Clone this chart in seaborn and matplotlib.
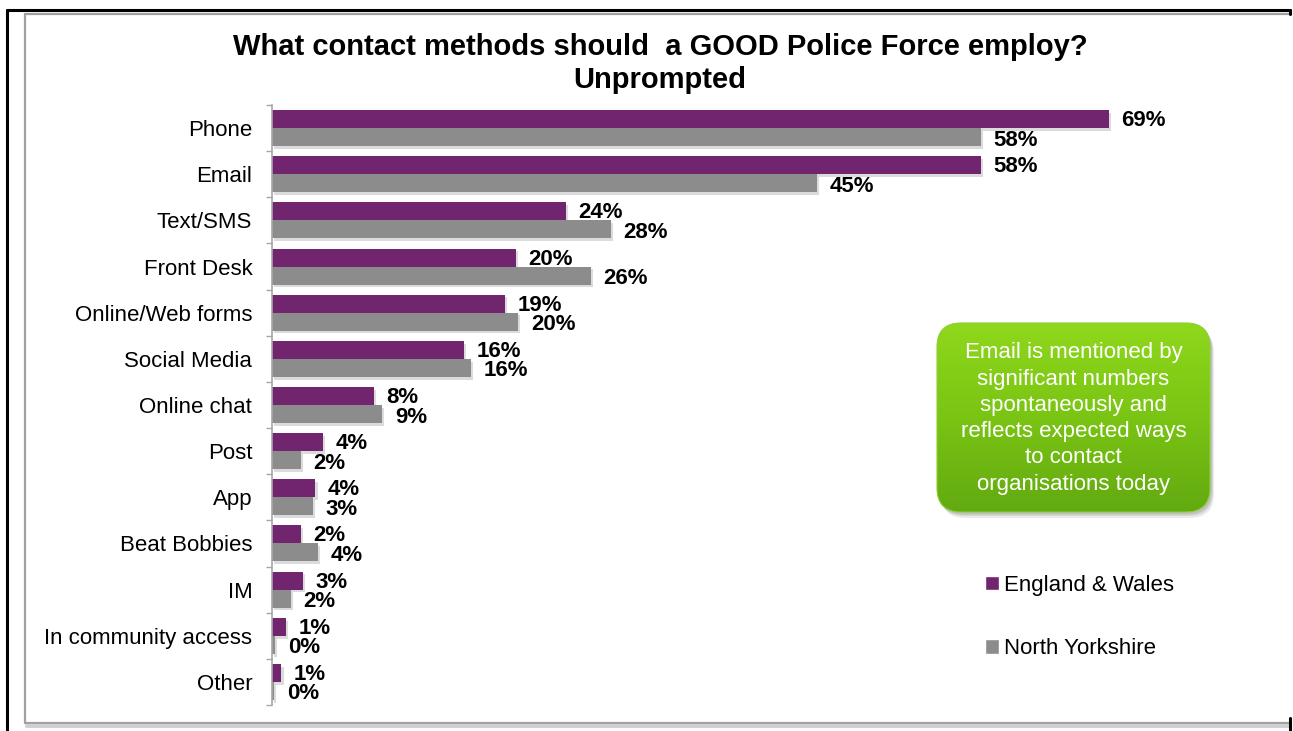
import numpy as np
import pandas as pd
import matplotlib
matplotlib.use("Agg")
import matplotlib.pyplot as plt
import seaborn as sns
from matplotlib.patches import FancyBboxPatch, Rectangle
from matplotlib.lines import Line2D
from matplotlib.colors import LinearSegmentedColormap
import matplotlib.patheffects as pe

# ---------------- data ----------------
categories = ["Phone", "Email", "Text/SMS", "Front Desk", "Online/Web forms",
              "Social Media", "Online chat", "Post", "App", "Beat Bobbies",
              "IM", "In community access", "Other"]
england_wales = [68.9, 58.4, 24.2, 20.1, 19.2, 15.8, 8.4, 4.2, 3.6, 2.4, 2.6, 1.2, 0.8]
north_yorkshire = [58.4, 44.9, 27.9, 26.3, 20.3, 16.4, 9.1, 2.4, 3.4, 3.8, 1.6, 0.3, 0.2]
series_names = ["England & Wales", "North Yorkshire"]
title_line1 = "What contact methods should  a GOOD Police Force employ?"
title_line2 = "Unprompted"
note_text = ("Email is mentioned by\nsignificant numbers\nspontaneously and\n"
             "reflects expected ways\nto contact\norganisations today")

PURPLE = "#72256F"
GREY = "#8C8C8C"

df = pd.DataFrame({
    "Method": categories * 2,
    "Value": england_wales + north_yorkshire,
    "Series": [series_names[0]] * len(categories) + [series_names[1]] * len(categories),
})

sns.set_theme(style="white")
plt.rcParams["font.family"] = ["Liberation Sans", "DejaVu Sans"]
plt.rcParams["text.color"] = "black"
plt.rcParams["axes.labelcolor"] = "black"
plt.rcParams["ytick.color"] = "black"

W, H = 1293, 731
fig = plt.figure(figsize=(W / 100, H / 100), dpi=100)

def fx(px):
    return px / W

def fy(py):
    return 1 - py / H

# axes: left spine at x=271.7, from y=105 to y=705
ax_left, ax_right = 271.7, 1271.7
ax = fig.add_axes([fx(ax_left), fy(705), (ax_right - ax_left) / W, 600 / H])
scale = 12.15  # px per percent
sns.barplot(data=df, y="Method", x="Value", hue="Series", orient="h",
            palette=[PURPLE, GREY], width=0.78, ax=ax, saturation=1,
            edgecolor="none", linewidth=0)
ax.set_xlim(0, (ax_right - ax_left) / scale)
ax.set_ylim(len(categories) - 0.5, -0.5)

shadow = [pe.SimplePatchShadow(offset=(1.5, -2.0), shadow_rgbFace="#9A9A9A", alpha=0.35), pe.Normal()]
for p in ax.patches:
    p.set_path_effects(shadow)

# value labels
for ci, c in enumerate(ax.containers):
    dy = -1.1 if ci == 0 else -2.2
    for bar in c:
        w = bar.get_width()
        yc = bar.get_y() + bar.get_height() / 2
        ax.annotate(f"{w:.0f}%", xy=(w, yc), xytext=(9, dy), textcoords="offset points",
                    ha="left", va="center", fontsize=16, fontweight="bold", color="black")

# axis styling
for s in ["top", "right", "bottom"]:
    ax.spines[s].set_visible(False)
ax.spines["left"].set_color("#A6A6A6")
ax.spines["left"].set_linewidth(1.2)
ax.set_xlabel("")
ax.set_ylabel("")
ax.set_xticks([])
ax.tick_params(axis="y", which="major", length=0, pad=14, labelsize=16, labelcolor="black")
ax.set_yticks(np.arange(len(categories) + 1) - 0.5, minor=True)
ax.tick_params(axis="y", which="minor", length=4, width=1, color="#A6A6A6", left=True)

# legend
ax.legend_.remove()
handles = [Rectangle((0, 0), 1, 1, facecolor=PURPLE), Rectangle((0, 0), 1, 1, facecolor=GREY)]
fig.legend(handles, series_names, loc="upper left", bbox_to_anchor=(fx(985), fy(575)),
           frameon=False, fontsize=16, handlelength=0.62, handleheight=0.62,
           handletextpad=0.25, labelspacing=1.9, borderpad=0, borderaxespad=0)

# title
fig.text(fx(660), fy(47), title_line1, ha="center", va="center", fontsize=21, fontweight="bold")
fig.text(fx(660), fy(80), title_line2, ha="center", va="center", fontsize=21, fontweight="bold")

# green note box with gradient
bx0, by0, bx1, by1 = 937, 323, 1210, 512
bw, bh = bx1 - bx0, by1 - by0
bax = fig.add_axes([fx(bx0) - 5 / W, fy(by1) - 9 / H, (bw + 12) / W, (bh + 12) / H])
bax.set_xlim(-5, bw + 7)
bax.set_ylim(-9, bh + 3)
bax.axis("off")
for off, a in [((4, -6), 0.10), ((3, -4), 0.12), ((2, -2.5), 0.15)]:
    sh = FancyBboxPatch(off, bw, bh, boxstyle="round,pad=0,rounding_size=24",
                        facecolor="#444444", edgecolor="none", alpha=a, zorder=1)
    bax.add_patch(sh)
box = FancyBboxPatch((0, 0), bw, bh, boxstyle="round,pad=0,rounding_size=24",
                     facecolor="none", edgecolor="#8CD034", linewidth=0.8, zorder=3)
bax.add_patch(box)
grad = np.linspace(0, 1, 256).reshape(-1, 1)
gcmap = LinearSegmentedColormap.from_list("g", ["#62AA10", "#7AC414", "#8FD81C"])
im = bax.imshow(grad, cmap=gcmap, extent=(0, bw, 0, bh), origin="lower", aspect="auto", zorder=2)
im.set_clip_path(box)
bax.text(bw / 2, bh / 2 - 1, note_text, ha="center", va="center", color="white",
         fontsize=16, linespacing=1.33, zorder=4)

# frames
gray_frame = [Line2D([fx(25), fx(25)], [fy(14), fy(723)]),
              Line2D([fx(25), fx(1290)], [fy(14), fy(14)]),
              Line2D([fx(25), fx(1290)], [fy(723), fy(723)])]
for l in gray_frame:
    l.set_color("#A0A0A0")
    l.set_linewidth(1.6)
    fig.add_artist(l)
fig.add_artist(Line2D([fx(27), fx(1290)], [fy(726), fy(726)], color="#D0D0D0", linewidth=3))
black_frame = [Line2D([fx(7), fx(7)], [fy(10), 0]),
               Line2D([fx(7), fx(1290)], [fy(10), fy(10)]),
               Line2D([fx(1290), fx(1290)], [fy(10), fy(14)]),
               Line2D([fx(1290), fx(1290)], [fy(718), fy(731)])]
for l in black_frame:
    l.set_color("black")
    l.set_linewidth(2.2)
    fig.add_artist(l)

fig.savefig("out.png", dpi=100)
